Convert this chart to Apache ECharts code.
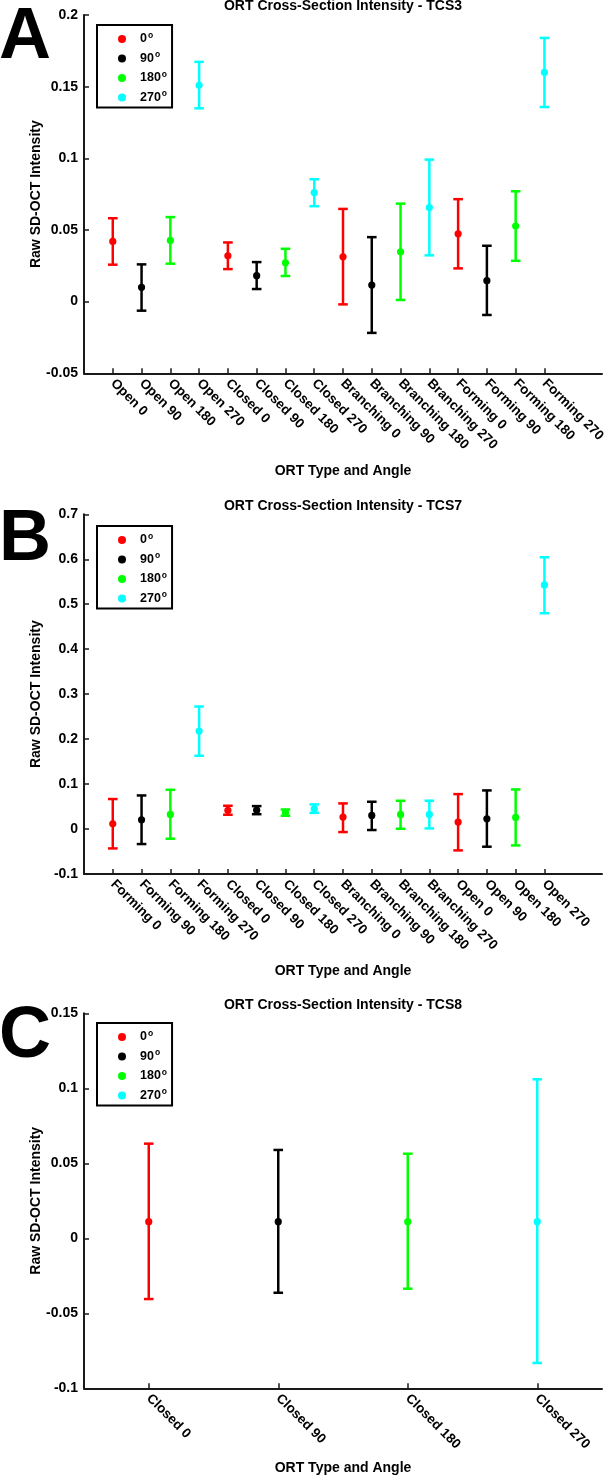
<!DOCTYPE html>
<html>
<head>
<meta charset="utf-8">
<script src="https://cdn.jsdelivr.net/npm/echarts@6/dist/echarts.min.js"></script>
<style>
html,body{margin:0;padding:0;background:#fff;}
#chart{width:604px;height:1476px;}
</style>
</head>
<body>
<div id="chart"></div>
<script>
// ---- Data ----
const angleNames = ['0°', '90°', '180°', '270°'];
const angleColors = ['#ff0000', '#000000', '#00ff00', '#00ffff'];

const catsA = ['Open 0','Open 90','Open 180','Open 270','Closed 0','Closed 90','Closed 180','Closed 270','Branching 0','Branching 90','Branching 180','Branching 270','Forming 0','Forming 90','Forming 180','Forming 270'];
const meanA = [0.042, 0.010, 0.0427, 0.151, 0.032, 0.0181, 0.0271, 0.0761, 0.0313, 0.0116, 0.0348, 0.0657, 0.0473, 0.0146, 0.0527, 0.160];
const lowA  = [0.0258, -0.0063, 0.0265, 0.1349, 0.0227, 0.0088, 0.0179, 0.0666, -0.0019, -0.0218, 0.0012, 0.0323, 0.0232, -0.0093, 0.0285, 0.1358];
const highA = [0.0582, 0.026, 0.059, 0.1673, 0.0413, 0.0276, 0.0369, 0.0854, 0.0647, 0.045, 0.0684, 0.0991, 0.0715, 0.039, 0.077, 0.184];

const catsB = ['Forming 0','Forming 90','Forming 180','Forming 270','Closed 0','Closed 90','Closed 180','Closed 270','Branching 0','Branching 90','Branching 180','Branching 270','Open 0','Open 90','Open 180','Open 270'];
const meanB = [0.0118, 0.0207, 0.0325, 0.2178, 0.0414, 0.042, 0.037, 0.045, 0.0266, 0.0303, 0.0325, 0.0325, 0.0155, 0.0229, 0.0258, 0.5429];
const lowB  = [-0.0431, -0.0334, -0.0215, 0.1629, 0.0318, 0.033, 0.0296, 0.036, -0.0067, -0.0022, 0.0007, 0.0014, -0.0475, -0.0393, -0.0364, 0.48];
const highB = [0.0667, 0.0747, 0.0873, 0.2725, 0.0518, 0.051, 0.0434, 0.0548, 0.057, 0.0607, 0.0629, 0.063, 0.0777, 0.0859, 0.0881, 0.6044];

const catsC = ['Closed 0','Closed 90','Closed 180','Closed 270'];
const meanC = [0.0111, 0.0111, 0.0111, 0.0111];
const lowC  = [-0.0405, -0.0363, -0.0336, -0.0831];
const highC = [0.0631, 0.0589, 0.0564, 0.106];

const titles = ['ORT Cross-Section Intensity - TCS3', 'ORT Cross-Section Intensity - TCS7', 'ORT Cross-Section Intensity - TCS8'];
const panelLetters = ['A', 'B', 'C'];
const xName = 'ORT Type and Angle';
const yName = 'Raw SD-OCT Intensity';

// ---- Layout ----
const FONT = '"Liberation Sans", Arial, Helvetica, sans-serif';
const AX = '#1a1a1a';
const panels = [
  {cats: catsA, mean: meanA, low: lowA, high: highA, xmin: 0, xmax: 18, ymin: -0.05, ymax: 0.2, yint: 0.05,
   top: 15, height: 358.3, titleY: 6, letterY: 38, legendTop: 25, nameGap: 91},
  {cats: catsB, mean: meanB, low: lowB, high: highB, xmin: 0, xmax: 18, ymin: -0.1, ymax: 0.7, yint: 0.1,
   top: 514.3, height: 359.7, titleY: 506, letterY: 540, legendTop: 526, nameGap: 90},
  {cats: catsC, mean: meanC, low: lowC, high: highC, xmin: 0.5, xmax: 4.5, ymin: -0.1, ymax: 0.15, yint: 0.05,
   top: 1013.3, height: 375, titleY: 1005, letterY: 1037, legendTop: 1023, nameGap: 73}
];

const grid = [], xAxis = [], yAxis = [], series = [], legend = [], graphic = [];

panels.forEach((p, pi) => {
  grid.push({left: 84, width: 518, top: p.top, height: p.height, containLabel: false, outerBoundsMode: 'none'});
  const ticks = p.cats.map((c, i) => i + 1);
  xAxis.push({
    type: 'value', gridIndex: pi, min: p.xmin, max: p.xmax,
    name: xName, nameLocation: 'middle', nameGap: p.nameGap, nameMoveOverlap: false,
    nameTextStyle: {fontFamily: FONT, fontWeight: 'bold', fontSize: 14, color: '#000'},
    axisLine: {show: true, onZero: false, lineStyle: {color: AX, width: 2}},
    axisTick: {show: true, inside: true, length: 5, customValues: ticks, lineStyle: {color: AX, width: 1.5}},
    axisLabel: {show: true, customValues: ticks, rotate: -45, margin: 8, hideOverlap: false,
      formatter: v => p.cats[Math.round(v) - 1] || '',
      fontFamily: FONT, fontWeight: 'bold', fontSize: 13.5, color: '#000'},
    splitLine: {show: false}
  });
  yAxis.push({
    type: 'value', gridIndex: pi, min: p.ymin, max: p.ymax, interval: p.yint,
    name: yName, nameLocation: 'middle', nameGap: 41, nameRotate: 90, nameMoveOverlap: false,
    nameTextStyle: {fontFamily: FONT, fontWeight: 'bold', fontSize: 14, color: '#000'},
    axisLine: {show: true, onZero: false, lineStyle: {color: AX, width: 2}},
    axisTick: {show: true, inside: true, length: 5, lineStyle: {color: AX, width: 1.5}},
    axisLabel: {margin: 6, fontFamily: FONT, fontWeight: 'bold', fontSize: 14, color: '#000',
      formatter: v => String(parseFloat(v.toFixed(4)))},
    splitLine: {show: false}
  });
  angleNames.forEach((an, k) => {
    const data = [];
    p.cats.forEach((c, i) => {
      const ang = (p.cats.length === 4) ? i : i % 4;
      if (ang === k) data.push([i + 1, p.mean[i], p.low[i], p.high[i]]);
    });
    series.push({
      type: 'custom', name: an, xAxisIndex: pi, yAxisIndex: pi,
      itemStyle: {color: angleColors[k]},
      encode: {x: 0, y: [1, 2, 3]},
      data: data,
      renderItem: (params, api) => {
        const x = api.value(0);
        const pM = api.coord([x, api.value(1)]);
        const pL = api.coord([x, api.value(2)]);
        const pH = api.coord([x, api.value(3)]);
        const col = api.visual('color');
        const hw = 4.8, lw = 2.5;
        const st = {stroke: col, lineWidth: lw};
        return {type: 'group', children: [
          {type: 'line', shape: {x1: pH[0], y1: pH[1], x2: pL[0], y2: pL[1]}, style: st},
          {type: 'line', shape: {x1: pH[0] - hw, y1: pH[1], x2: pH[0] + hw, y2: pH[1]}, style: st},
          {type: 'line', shape: {x1: pL[0] - hw, y1: pL[1], x2: pL[0] + hw, y2: pL[1]}, style: st},
          {type: 'circle', shape: {cx: pM[0], cy: pM[1], r: 3.6}, style: {fill: col}}
        ]};
      }
    });
  });
  legend.push({
    left: 97, top: p.legendTop, orient: 'vertical', data: angleNames, selectedMode: false,
    icon: 'circle', itemWidth: 26, itemHeight: 8, itemGap: 3.5,
    padding: [6, 5, 2, 21], borderColor: '#000', borderWidth: 2, backgroundColor: '#fff',
    formatter: name => '{n|' + name.replace('°', '') + '}{s|o}',
    textStyle: {fontFamily: FONT, fontWeight: 'bold', fontSize: 12, color: '#000',
      rich: {
        n: {fontFamily: FONT, fontWeight: 'bold', fontSize: 12.5, color: '#000', lineHeight: 14},
        s: {fontFamily: FONT, fontWeight: 'bold', fontSize: 8.5, color: '#000', lineHeight: 14, padding: [0, 0, 7, 1]}
      }}
  });
  graphic.push({type: 'text', x: 343, y: p.titleY, silent: true,
    style: {text: titles[pi], font: 'bold 14px ' + FONT, fill: '#000', textAlign: 'center', textVerticalAlign: 'middle'}});
  graphic.push({type: 'text', x: -1, y: p.letterY, silent: true,
    style: {text: panelLetters[pi], font: 'bold 72px ' + FONT, fill: '#000', textAlign: 'left', textVerticalAlign: 'middle'}});
});

const chart = echarts.init(document.getElementById('chart'), null, {renderer: 'canvas'});
chart.setOption({
  animation: false,
  backgroundColor: '#fff',
  grid, xAxis, yAxis, series, legend, graphic
});
</script>
</body>
</html>
